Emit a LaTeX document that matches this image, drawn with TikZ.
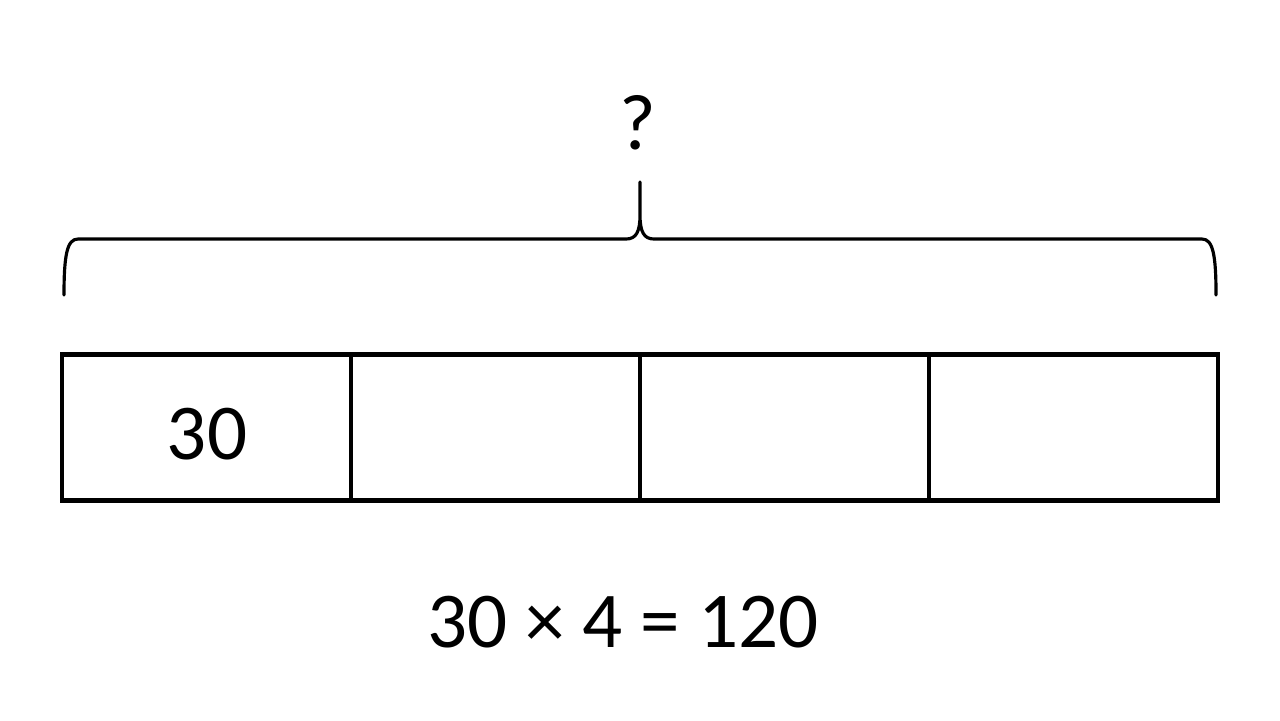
\documentclass[tikz,border=0pt]{standalone}
\usepackage{fontspec}
\setmainfont{Carlito}
\begin{document}
\begin{tikzpicture}[x=0.01cm,y=-0.01cm,
  cell/.style={draw=black,line width=1.3pt,minimum width=2.89cm,minimum height=1.46cm,inner sep=0pt,outer sep=0pt},
  bracel/.style={draw=black,line width=0.9pt,line cap=round,line join=round},
  lbl/.style={inner sep=0pt,font=\fontsize{22.5}{27}\selectfont}]
\fill[white] (0,0) rectangle (1280,720);
\useasboundingbox (0,0) rectangle (1280,720);
% cells
\node[cell] (c1) at (206.5,427.5) {};
\node[cell] (c2) at (495.5,427.5) {};
\node[cell] (c3) at (784.5,427.5) {};
\node[cell] (c4) at (1073.5,427.5) {};
\node[lbl] (t1) at (207,434) {30};
% brace
\coordinate (bl) at (64,295);
\coordinate (br) at (1216,295);
\coordinate (bt) at (640,182);
\draw[bracel] (bl) .. controls (64,255) and (67,239) .. (78,239)
  -- (626,239) .. controls (636,239) and (640,232) .. (640,215) -- (bt)
  (640,215) .. controls (640,232) and (644,239) .. (654,239)
  -- (1202,239) .. controls (1213,239) and (1216,255) .. (br);
% labels
\node[lbl] (q) at (638,123) {?};
\node[lbl] (eq) at (623,622) {30 × 4 = 120};
\end{tikzpicture}
\end{document}
